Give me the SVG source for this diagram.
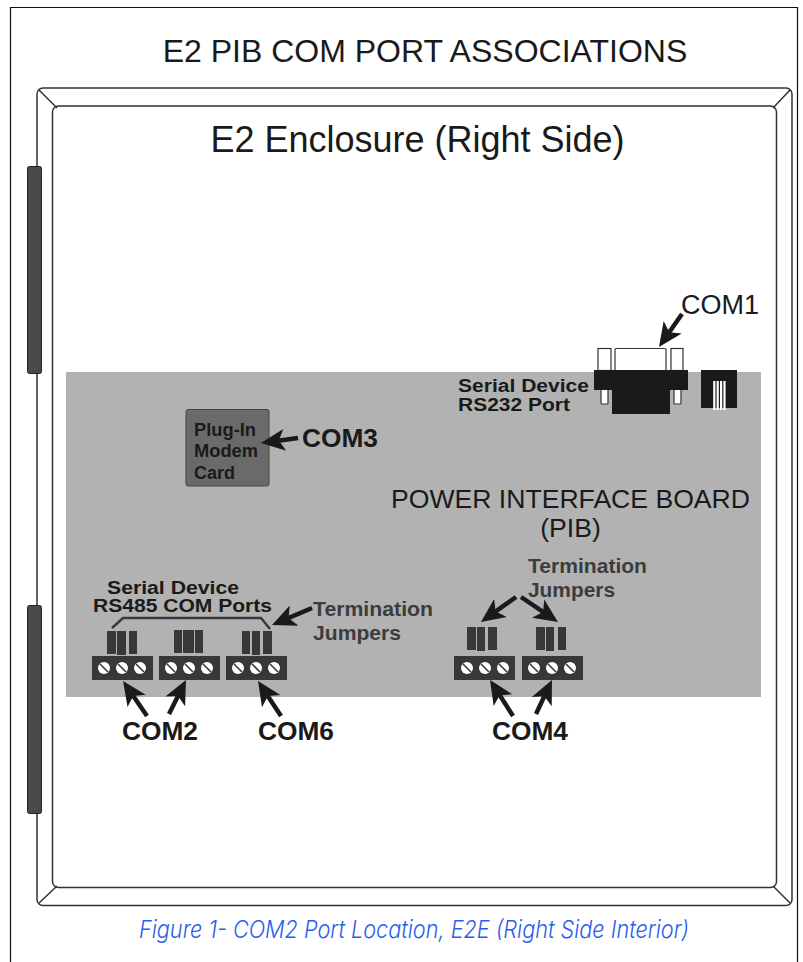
<svg xmlns="http://www.w3.org/2000/svg" width="803" height="962" viewBox="0 0 803 962">
<defs>
<marker id="head" markerUnits="userSpaceOnUse" markerWidth="30" markerHeight="30" refX="14" refY="15" orient="auto"><path d="M24,15 L0,4 L6,15 L0,26 Z" fill="#1a1a1a"/></marker>
</defs>
<style>
text{font-family:"Liberation Sans",Arial,sans-serif;fill:#1a1a1a}
.b{font-weight:bold}
.g{fill:#3c3c3c;font-weight:bold;font-size:19.500px}
.com{font-weight:bold;font-size:25px}
.ar{stroke:#1a1a1a;stroke-width:4.500;fill:none;marker-end:url(#head)}
.j{fill:#383838}
.t{fill:#383838}
.s{fill:#fff}
.sl{stroke:#383838;stroke-width:1.6}
.h{fill:#4a4a4a;stroke:#222;stroke-width:1}
.w{fill:#fff;stroke:#333;stroke-width:1.2}
</style>
<rect width="803" height="962" fill="#fff"/>
<path id="frame" d="M10.500,962V7.500H797.500V962" fill="none" stroke="#111" stroke-width="1.2"/>
<g id="title"><text x="425" y="62" font-size="32" text-anchor="middle">E2 PIB COM PORT ASSOCIATIONS</text></g>
<g id="enclosure" fill="none" stroke="#333" stroke-width="1.5">
<rect x="37" y="88" width="755" height="817.500" rx="6"/>
<rect x="52.500" y="106" width="724" height="781.500" rx="6"/>
<path d="M39,90L57,108M790,90L773,108M39,903L57,886M790,903L773,886"/>
</g>
<g id="hinges">
<rect class="h" x="27.500" y="166.500" width="14" height="207" rx="2"/>
<rect class="h" x="27.500" y="605.500" width="14" height="208" rx="2"/>
</g>
<text x="417.500" y="152" font-size="36" text-anchor="middle">E2 Enclosure (Right Side)</text>
<rect id="board" x="66" y="372" width="695" height="325" fill="#b2b2b2"/>
<g id="db9">
<rect class="w" x="598" y="348.500" width="13" height="22"/>
<rect class="w" x="615" y="348.500" width="51" height="22" rx="1"/>
<rect class="w" x="671" y="348.500" width="12" height="22"/>
<rect class="w" x="601" y="389" width="7" height="15" rx="1"/>
<rect class="w" x="674" y="389" width="7" height="15" rx="1"/>
<rect x="594" y="370" width="94" height="20" fill="#1a1a1a"/>
<rect x="612" y="390" width="58" height="24" fill="#1a1a1a"/>
</g>
<g id="rj">
<rect x="701" y="370" width="36" height="38" fill="#1a1a1a"/>
<path d="M714.300,381V410M717.700,381V410M721.100,381V410M724.500,381V410" stroke="#fff" stroke-width="2.200"/>
</g>
<g id="serial232"><text class="b" font-size="18" x="458" y="392" textLength="131" lengthAdjust="spacingAndGlyphs">Serial Device</text><text class="b" font-size="18" x="458" y="411" textLength="112" lengthAdjust="spacingAndGlyphs">RS232 Port</text></g>
<g id="modem">
<rect x="186" y="409.500" width="83" height="76.500" rx="2" fill="#6a6a6a" stroke="#444"/>
<text class="b" font-size="17.500" x="194" y="436" textLength="62" lengthAdjust="spacingAndGlyphs">Plug-In</text>
<text class="b" font-size="17.500" x="194" y="457" textLength="64" lengthAdjust="spacingAndGlyphs">Modem</text>
<text class="b" font-size="17.500" x="194" y="479" textLength="41" lengthAdjust="spacingAndGlyphs">Card</text>
</g>
<text class="com" x="302" y="447" textLength="76" lengthAdjust="spacingAndGlyphs">COM3</text>
<g id="pib"><text x="570.500" y="508" font-size="26.600" text-anchor="middle">POWER INTERFACE BOARD</text><text x="570.500" y="537" font-size="26.600" text-anchor="middle">(PIB)</text></g>
<g id="serial485"><text class="b" font-size="18" x="107" y="594" textLength="132" lengthAdjust="spacingAndGlyphs">Serial Device</text><text class="b" font-size="18" x="93" y="612" textLength="179" lengthAdjust="spacingAndGlyphs">RS485 COM Ports</text></g>
<path id="bracket" d="M112,628L123,618H261L270,629" fill="none" stroke="#383838" stroke-width="2.500"/>
<g id="tb1">
<rect class="j" x="107" y="631" width="9" height="23"/><rect class="j" x="117" y="631" width="9" height="24"/><rect class="j" x="129" y="631" width="8" height="23"/>
<rect class="t" x="92" y="656" width="61" height="24"/>
<circle class="s" cx="104" cy="668" r="6"/><circle class="s" cx="122" cy="668" r="6"/><circle class="s" cx="140" cy="668" r="6"/>
<path class="sl" d="M100,664L108,672M118,664L126,672M136,664L144,672"/>
</g>
<g id="tb2">
<rect class="j" x="174" y="630" width="8" height="23"/><rect class="j" x="183" y="630" width="11" height="23"/><rect class="j" x="195" y="630" width="8" height="23"/>
<rect class="t" x="159" y="656" width="61" height="24"/>
<circle class="s" cx="171" cy="668" r="6"/><circle class="s" cx="189" cy="668" r="6"/><circle class="s" cx="207" cy="668" r="6"/>
<path class="sl" d="M167,664L175,672M185,664L193,672M203,664L211,672"/>
</g>
<g id="tb3">
<rect class="j" x="242" y="631" width="8" height="23"/><rect class="j" x="252" y="631" width="8" height="24"/><rect class="j" x="263" y="631" width="9" height="23"/>
<rect class="t" x="226" y="656" width="61" height="24"/>
<circle class="s" cx="238" cy="668" r="6"/><circle class="s" cx="256" cy="668" r="6"/><circle class="s" cx="274" cy="668" r="6"/>
<path class="sl" d="M234,664L242,672M252,664L260,672M270,664L278,672"/>
</g>
<g id="tb4">
<rect class="j" x="467" y="627" width="9" height="23"/><rect class="j" x="477" y="627" width="8" height="24"/><rect class="j" x="488" y="627" width="9" height="23"/>
<rect class="t" x="454" y="656" width="61" height="24"/>
<circle class="s" cx="467" cy="668" r="6"/><circle class="s" cx="485" cy="668" r="6"/><circle class="s" cx="503" cy="668" r="6"/>
<path class="sl" d="M463,664L471,672M481,664L489,672M499,664L507,672"/>
</g>
<g id="tb5">
<rect class="j" x="536" y="627" width="9" height="23"/><rect class="j" x="546" y="627" width="8" height="24"/><rect class="j" x="558" y="627" width="8" height="23"/>
<rect class="t" x="522" y="656" width="61" height="24"/>
<circle class="s" cx="534" cy="668" r="6"/><circle class="s" cx="552" cy="668" r="6"/><circle class="s" cx="570" cy="668" r="6"/>
<path class="sl" d="M530,664L538,672M548,664L556,672M566,664L574,672"/>
</g>
<g id="labels">
<text class="g" x="313" y="616" textLength="120" lengthAdjust="spacingAndGlyphs">Termination</text>
<text class="g" x="313" y="640" textLength="88" lengthAdjust="spacingAndGlyphs">Jumpers</text>
<text class="g" x="528" y="573" textLength="119" lengthAdjust="spacingAndGlyphs">Termination</text>
<text class="g" x="528" y="597" textLength="87" lengthAdjust="spacingAndGlyphs">Jumpers</text>
<text class="com" x="122" y="740" textLength="76" lengthAdjust="spacingAndGlyphs">COM2</text>
<text class="com" x="258" y="740" textLength="76" lengthAdjust="spacingAndGlyphs">COM6</text>
<text class="com" x="492" y="740" textLength="76" lengthAdjust="spacingAndGlyphs">COM4</text>
<text x="681" y="314" font-size="27">COM1</text>
</g>
<g id="connectors">
<path class="ar" d="M682,314L664.700,338.800"/>
<path class="ar" d="M312,608L281.200,621.100"/>
<path class="ar" d="M147,716L128.700,689.300"/>
<path class="ar" d="M169,714L181.500,688.900"/>
<path class="ar" d="M281,716L263.500,689.400"/>
<path class="ar" d="M516,597L489.100,616.200"/>
<path class="ar" d="M521,597L549.700,616.400"/>
<path class="ar" d="M513,716L495.400,688.400"/>
<path class="ar" d="M536,714L547.700,689"/>
<path class="ar" d="M298,438L270.900,441.700"/>
</g>
<g id="caption"><text x="139" y="937.500" font-size="24" font-style="italic" font-weight="300" textLength="550" lengthAdjust="spacingAndGlyphs" style="font-family:Inter,'Open Sans',sans-serif;fill:#2a5cf0">Figure 1- COM2 Port Location, E2E (Right Side Interior)</text></g>
</svg>
